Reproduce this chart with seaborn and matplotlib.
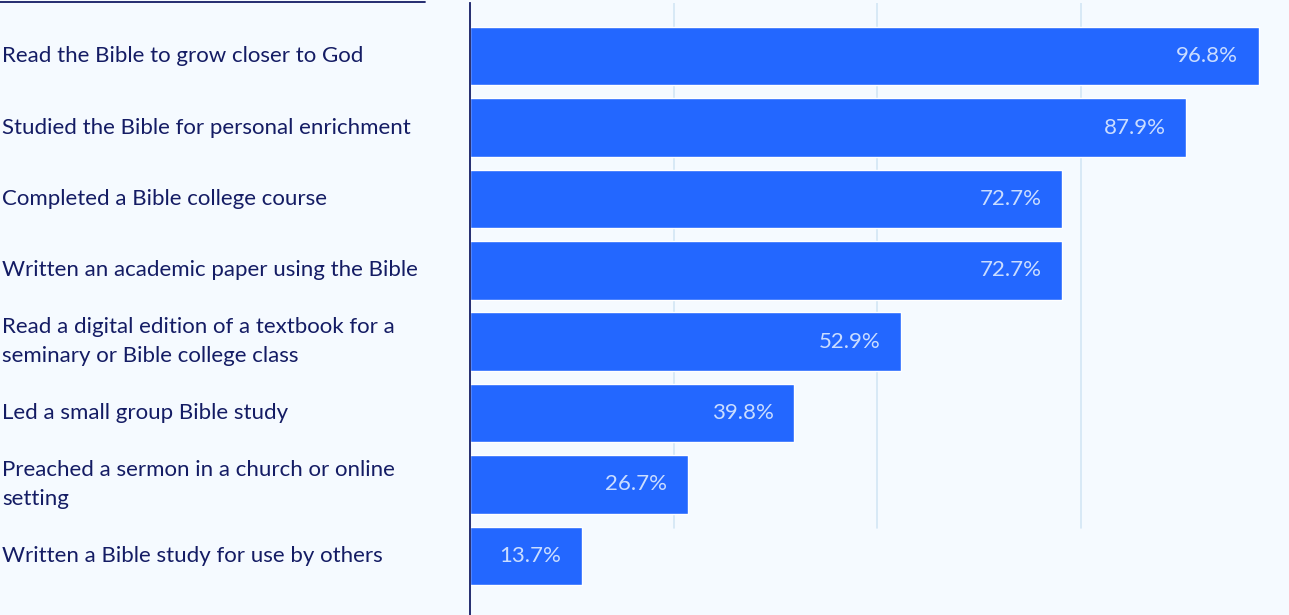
import matplotlib
matplotlib.use("Agg")
import matplotlib.pyplot as plt
import matplotlib.transforms as mtransforms
import seaborn as sns
import pandas as pd

categories = [
    "Read the Bible to grow closer to God",
    "Studied the Bible for personal enrichment",
    "Completed a Bible college course",
    "Written an academic paper using the Bible",
    "Read a digital edition of a textbook for a\nseminary or Bible college class",
    "Led a small group Bible study",
    "Preached a sermon in a church or online\nsetting",
    "Written a Bible study for use by others",
]
values = [96.8, 87.9, 72.7, 72.7, 52.9, 39.8, 26.7, 13.7]
grid_ticks = [25, 50, 75]

BG = "#F5FAFF"
BAR = "#2367FF"
NAVY = "#141C64"
VALUE_TXT = "#CADDFF"
GRID = "#D3E6F5"

sns.set_theme(style="white")
plt.rcParams["font.family"] = ["Lato", "DejaVu Sans"]

df = pd.DataFrame({"category": categories, "value": values})

W, H, DPI = 1289, 615, 100
fig = plt.figure(figsize=(W / DPI, H / DPI), dpi=DPI, facecolor=BG)
ax = fig.add_axes([470 / W, 0, (W - 470) / W, 612 / H])
ax.set_facecolor(BG)

sns.barplot(data=df, x="value", y="category", orient="h", color=BAR,
            saturation=1, width=0.82, ax=ax)

ax.set_xlim(0, 100.5)
ax.set_ylim(7.83, -0.745)

# vertical gridlines stop above the last bar
for t in grid_ticks:
    ax.axvline(t, ymin=0.142, ymax=1, color=GRID, lw=1.2, zorder=0)

for s in ["top", "right", "bottom"]:
    ax.spines[s].set_visible(False)
ax.spines["left"].set_color(NAVY)
ax.spines["left"].set_linewidth(1.3)
ax.set_xticks([])
ax.set_yticks([])
ax.set_xlabel("")
ax.set_ylabel("")

# category labels, left aligned at the figure edge
trans = mtransforms.blended_transform_factory(fig.transFigure, ax.transData)
for i, cat in enumerate(categories):
    ax.text(2 / W, i, cat, transform=trans, ha="left", va="center",
            fontsize=16, color=NAVY, linespacing=1.53, clip_on=False)

# value labels inside the bars
for i, v in enumerate(values):
    ax.text(v - 2.55, i, f"{v:.1f}%", ha="right", va="center",
            fontsize=16, color=VALUE_TXT)

# rule above the category labels
fig.add_artist(plt.Line2D([0, 425 / W], [1 - 2 / H, 1 - 2 / H],
                          color=NAVY, lw=1.3, transform=fig.transFigure))

fig.savefig("out.png", dpi=DPI, facecolor=BG)
